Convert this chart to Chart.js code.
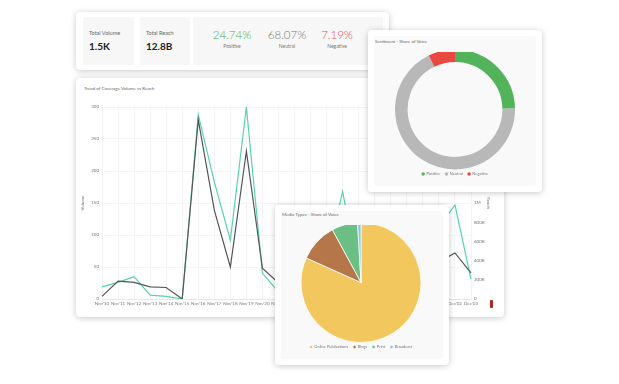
<!DOCTYPE html>
<html><head><meta charset="utf-8">
<script src="https://cdn.jsdelivr.net/npm/chart.js@4.4.0/dist/chart.umd.min.js"></script>
<style>
html,body{margin:0;padding:0;background:#fff;width:619px;height:384px;overflow:hidden;font-family:'Lato','Open Sans',sans-serif;}
.card{position:absolute;background:#fff;border-radius:4px;box-shadow:0 1px 6px rgba(0,0,0,0.22);}
.panel{position:absolute;background:#f7f7f8;border-radius:2px;}
.t{position:absolute;white-space:nowrap;}
canvas{position:absolute;}
</style></head><body>

<div class="card" style="left:76px;top:12px;width:313px;height:58px;z-index:1;">
  <div class="panel" style="left:7px;top:5px;width:51px;height:48px"></div>
  <div class="panel" style="left:64px;top:5px;width:50px;height:48px"></div>
  <div class="panel" style="left:117px;top:5px;width:190px;height:48px"></div>
  <div class="t" style="left:13px;top:18px;font-size:5.5px;line-height:6px;color:#666">Total Volume</div>
  <div class="t" style="left:13px;top:29px;font-size:10px;line-height:10px;font-weight:bold;color:#222">1.5K</div>
  <div class="t" style="left:70px;top:18px;font-size:5.5px;line-height:6px;color:#666">Total Reach</div>
  <div class="t" style="left:70px;top:29px;font-size:10px;line-height:10px;font-weight:bold;color:#222">12.8B</div>
  <div class="t" style="left:136px;width:40px;text-align:center;top:17px;font-size:11.5px;line-height:12px;color:#4caf50;font-weight:300">24.74%</div>
  <div class="t" style="left:136px;width:40px;text-align:center;top:32px;font-size:5px;line-height:5px;color:#777">Positive</div>
  <div class="t" style="left:191px;width:40px;text-align:center;top:17px;font-size:11.5px;line-height:12px;color:#777;font-weight:300">68.07%</div>
  <div class="t" style="left:191px;width:40px;text-align:center;top:32px;font-size:5px;line-height:5px;color:#777">Neutral</div>
  <div class="t" style="left:241px;width:40px;text-align:center;top:17px;font-size:11.5px;line-height:12px;color:#e0504a;font-weight:300">7.19%</div>
  <div class="t" style="left:241px;width:40px;text-align:center;top:32px;font-size:5px;line-height:5px;color:#777">Negative</div>
</div>

<div class="card" style="left:76px;top:78px;width:428px;height:239px;z-index:2;">
  <div class="t" style="left:8px;top:8px;font-size:4.5px;line-height:5px;color:#666">Trend of Coverage Volume vs Reach</div>
  <canvas id="lineC" width="420" height="218" style="left:2px;top:17px"></canvas>
  <div style="position:absolute;left:414px;top:222px;width:3px;height:8px;background:#b3261e;border-radius:1px"></div>
</div>

<div class="card" style="left:368px;top:30px;width:174px;height:162px;z-index:3;">
  <div class="panel" style="left:6px;top:6px;width:162px;height:150px;background:#f9f9fa"></div>
  <div class="t" style="left:7px;top:9px;font-size:4.5px;line-height:5px;color:#666">Sentiment - Share of Voice</div>
  <canvas id="donutC" width="160" height="134" style="left:7px;top:22px"></canvas>
</div>

<div class="card" style="left:275px;top:205px;width:174px;height:160px;z-index:4;">
  <div class="panel" style="left:6px;top:6px;width:162px;height:148px;background:#f9f9fa"></div>
  <div class="t" style="left:7px;top:7px;font-size:4.5px;line-height:5px;color:#666">Media Types - Share of Voice</div>
  <canvas id="pieC" width="160" height="134" style="left:6px;top:20px"></canvas>
</div>

<script>
const xLabels = ["Nov'10","Nov'11","Nov'12","Nov'13","Nov'14","Nov'15","Nov'16","Nov'17","Nov'18","Nov'19","Nov'20","Nov'21","Nov'22","Nov'23","Nov'24","Nov'25","Nov'26","Nov'27","Nov'28","Nov'29","Nov'30","Dec'01","Dec'02","Dec'03"];
const volume = [4,28,26,19,18,0,280,139,50,231,48,25,20,30,45,70,40,25,35,50,55,58,72,41];
const reach = [127000,173000,233000,40000,27000,0,1920000,1220000,613000,2000000,267000,73000,53000,100000,400000,1120000,200000,67000,133000,300000,533000,747000,980000,207000];
const volumeTicks = {min:0,max:300,step:50};
const reachTicks = {min:0,max:2000000,step:200000};
const sentimentLabels = ["Positive","Neutral","Negative"];
const sentimentValues = [24.74,68.07,7.19];
const mediaLabels = ["Online Publications","Blogs","Print","Broadcast"];
const mediaValues = [81.7,10.4,7.0,0.9];

Chart.defaults.font.family = "Lato, 'Open Sans', sans-serif";
Chart.defaults.color = '#777';
Chart.defaults.animation = false;

const tiny = {size:4.5};
new Chart(document.getElementById('lineC'), {
  type:'line',
  data:{labels:xLabels, datasets:[
    {label:'Volume', data:volume, yAxisID:'y', borderColor:'#555', borderWidth:1.2, pointRadius:0, tension:0},
    {label:'Reach', data:reach, yAxisID:'y1', borderColor:'#55d3b1', borderWidth:1.2, pointRadius:0, tension:0}
  ]},
  options:{responsive:false, maintainAspectRatio:false,
    layout:{padding:{top:12,right:5,bottom:4,left:0}},
    plugins:{legend:{display:false},tooltip:{enabled:false}},
    scales:{
      x:{grid:{color:'#ededed',lineWidth:0.6,drawTicks:false},border:{display:true,color:'#e6e6e6'},
         ticks:{font:tiny,padding:2,maxRotation:0,minRotation:0,autoSkip:false},
         afterFit:s=>{s.height=10;}},
      y:{position:'left',min:volumeTicks.min,max:volumeTicks.max,
         ticks:{stepSize:volumeTicks.step,font:tiny,padding:3},
         grid:{color:'#ededed',lineWidth:0.6,drawTicks:false},border:{display:false},
         title:{display:true,text:'Volume',font:tiny,padding:2},
         afterFit:s=>{s.width=24;}},
      y1:{position:'right',min:reachTicks.min,max:reachTicks.max,
         ticks:{stepSize:reachTicks.step,font:tiny,padding:3,
           callback:v=>v===0?'0':(v>=1e6?(v/1e6)+'M':(v/1e3)+'K')},
         grid:{drawOnChartArea:false,drawTicks:false},border:{display:false},
         title:{display:true,text:'Reach',font:tiny,padding:2},
         afterFit:s=>{s.width=22;}}
    }}
});

const legendOpts = {display:true,position:'bottom',
  labels:{font:{size:4},usePointStyle:true,pointStyle:'circle',boxWidth:2.5,boxHeight:2.5,padding:5,color:'#777'}};

new Chart(document.getElementById('donutC'), {
  type:'doughnut',
  data:{labels:sentimentLabels, datasets:[{data:sentimentValues,
    backgroundColor:['#52b35a','#b8b8b8','#e8483f'], borderWidth:0, radius:60, cutout:'79%'}]},
  options:{responsive:false,maintainAspectRatio:false,
    plugins:{legend:legendOpts,tooltip:{enabled:false}}}
});

new Chart(document.getElementById('pieC'), {
  type:'pie',
  data:{labels:mediaLabels, datasets:[{data:mediaValues,
    backgroundColor:['#f1c75e','#b5774a','#6cbf84','#7fc6ea'], borderColor:'#fff', borderWidth:0.8, radius:60}]},
  options:{responsive:false,maintainAspectRatio:false,
    plugins:{legend:legendOpts,tooltip:{enabled:false}}}
});
</script>
</body></html>
